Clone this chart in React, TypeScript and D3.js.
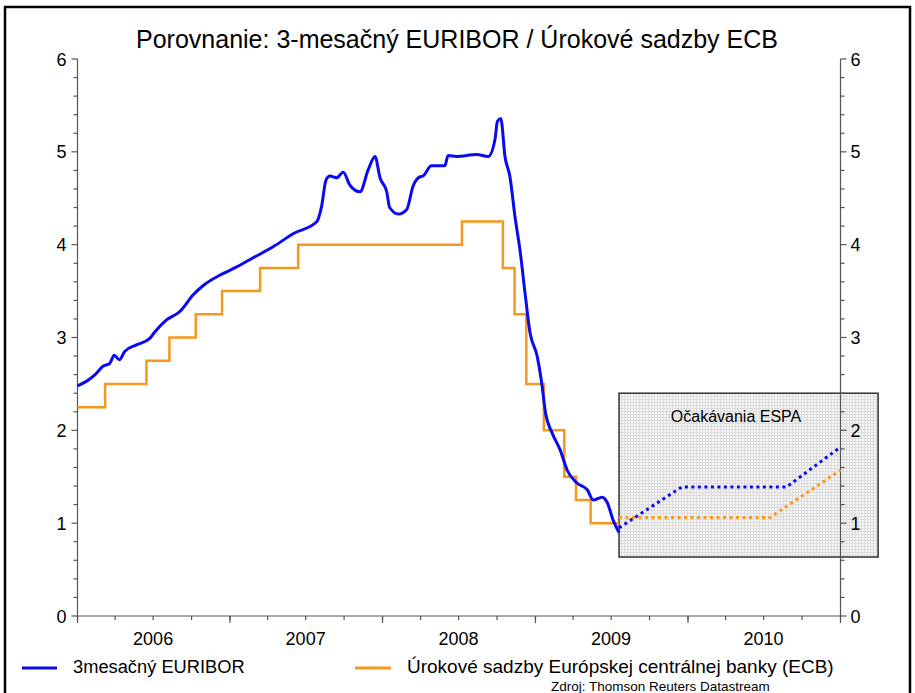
import React from "react";
import * as d3 from "d3";

const euriborDates = [
  "2006-01-01","2006-01-23","2006-02-12","2006-03-03","2006-03-19","2006-03-30","2006-04-11","2006-04-24",
  "2006-05-22","2006-06-23","2006-07-05","2006-08-02","2006-09-03","2006-10-05","2006-10-29","2006-12-16",
  "2007-01-17","2007-02-18","2007-04-15","2007-06-02","2007-07-28","2007-08-08","2007-08-19","2007-08-28",
  "2007-09-13","2007-09-29","2007-10-15","2007-11-08","2007-11-28","2007-12-14","2007-12-26","2008-01-11",
  "2008-01-18","2008-02-08","2008-02-28","2008-03-14","2008-03-30","2008-04-07","2008-04-27","2008-05-29",
  "2008-06-06","2008-06-26","2008-08-13","2008-09-10","2008-09-26","2008-10-02","2008-10-10","2008-10-20",
  "2008-11-01","2008-11-13","2008-11-25","2008-12-07","2008-12-19","2009-01-05","2009-01-15","2009-01-25",
  "2009-02-10","2009-03-01","2009-03-18","2009-04-11","2009-05-05","2009-05-19","2009-06-10","2009-06-22",
  "2009-07-06","2009-07-20"
];
const euriborRates = [
  2.48,2.53,2.6,2.69,2.72,2.81,2.76,2.85,
  2.92,2.99,3.06,3.19,3.28,3.46,3.56,3.69,
  3.76,3.84,3.98,4.12,4.25,4.41,4.7,4.74,
  4.72,4.78,4.64,4.57,4.81,4.95,4.72,4.57,
  4.4,4.33,4.38,4.63,4.73,4.74,4.85,4.85,
  4.96,4.95,4.97,4.95,5.13,5.33,5.36,4.95,
  4.73,4.3,3.94,3.48,3.05,2.8,2.54,2.19,
  1.97,1.79,1.57,1.43,1.36,1.25,1.28,1.22,
  1.03,0.9
];

const ecbDates = [
  "2006-01-01","2006-03-08","2006-06-15","2006-08-09","2006-10-11","2006-12-13","2007-03-14","2007-06-13",
  "2008-07-09","2008-10-15","2008-11-12","2008-12-10","2009-01-21","2009-03-11","2009-04-08","2009-05-13",
  "2009-07-20"
];
const ecbRates = [2.25,2.5,2.75,3.0,3.25,3.5,3.75,4.0,4.25,3.75,3.25,2.5,2.0,1.5,1.25,1.0,1.0];

const euriborForecastDates = ["2009-07-20","2009-12-17","2010-08-25","2011-01-01"];
const euriborForecastRates = [0.95,1.39,1.39,1.82];
const ecbForecastDates = ["2009-07-20","2010-07-16","2011-01-01"];
const ecbForecastRates = [1.06,1.06,1.57];

const yearLabels = ["2006","2007","2008","2009","2010"];
const yTicks = [0,1,2,3,4,5,6];

const title = "Porovnanie: 3-mesačný EURIBOR / Úrokové sadzby ECB";
const boxLabel = "Očakávania ESPA";
const legendLabels = ["3mesačný EURIBOR","Úrokové sadzby Európskej centrálnej banky (ECB)"];
const sourceLabel = "Zdroj: Thomson Reuters Datastream";

const BLUE = "#0a0af0";
const ORANGE = "#f7971e";
const FONT = "'Liberation Sans', Arial, sans-serif";

const parse = d3.timeParse("%Y-%m-%d");

type Pt = { d: Date; v: number };
const zip = (ds: string[], vs: number[]): Pt[] => ds.map((s, i) => ({ d: parse(s) as Date, v: vs[i] }));

export default function App() {
  const W = 915, H = 693;
  const x = d3.scaleTime().domain([parse("2006-01-01") as Date, parse("2011-01-01") as Date]).range([77.5, 840.5]);
  const y = d3.scaleLinear().domain([0, 6]).range([616, 59]);

  const mk = () => d3.line<Pt>().x(p => x(p.d)).y(p => y(p.v));
  const euribor = zip(euriborDates, euriborRates);
  const ecb = zip(ecbDates, ecbRates);
  const eurF = zip(euriborForecastDates, euriborForecastRates);
  const ecbF = zip(ecbForecastDates, ecbForecastRates);

  const euriborPath = mk().curve(d3.curveMonotoneX)(euribor) || "";
  const ecbPath = mk().curve(d3.curveStepAfter)(ecb) || "";
  const eurFPath = mk()(eurF) || "";
  const ecbFPath = mk()(ecbF) || "";

  const x0 = x.range()[0], x1 = x.range()[1];
  const yBase = y(0);
  const minorY = d3.range(0, 6.001, 0.2);
  const quarters = d3.timeMonth.every(3)!.range(x.domain()[0], new Date(2011, 0, 2));
  const years = d3.timeYear.range(x.domain()[0], new Date(2011, 0, 2));

  // forecast box (annotation, in data coordinates)
  const bx0 = x(parse("2009-07-20") as Date);
  const bx1 = x(parse("2011-04-01") as Date);
  const by0 = y(2.4);
  const by1 = y(0.635);

  const axisColor = "#555";

  return (
    <svg width={W} height={H} style={{ position: "absolute", left: 0, top: 0, background: "#fff" }} fontFamily={FONT}>
      <defs>
        <pattern id="grid" width="3" height="3" patternUnits="userSpaceOnUse">
          <rect width="3" height="3" fill="#f5f5f5" />
          <path d="M0 0.5H3M0.5 0V3" stroke="#dcdcdc" strokeWidth="1" />
        </pattern>
      </defs>
      <rect x={0} y={0} width={W} height={H} fill="#fff" />
      {/* outer frame */}
      <path d={`M5,${H + 5}V7H910V${H + 5}`} fill="none" stroke="#000" strokeWidth={2.5} />

      <text x={457} y={48} textAnchor="middle" fontSize={25} fill="#000">{title}</text>

      {/* forecast box */}
      <rect x={bx0} y={by0} width={bx1 - bx0} height={by1 - by0} fill="url(#grid)" stroke="#333" strokeWidth={1.5} />
      <text x={736} y={421.5} textAnchor="middle" fontSize={16} fill="#000">{boxLabel}</text>

      {/* axes */}
      <g stroke={axisColor} strokeWidth={1.2} fill="none">
        <line x1={x0} x2={x0} y1={y(6)} y2={yBase} />
        <line x1={x1} x2={x1} y1={y(6)} y2={yBase} />
        <line x1={x0} x2={x1} y1={yBase} y2={yBase} />
        {minorY.map((v, i) => (
          <g key={"my" + i}>
            <line x1={x0 - (Math.abs(v - Math.round(v)) < 1e-6 ? 6 : 4)} x2={x0} y1={y(v)} y2={y(v)} />
            <line x1={x1} x2={x1 + (Math.abs(v - Math.round(v)) < 1e-6 ? 6 : 4)} y1={y(v)} y2={y(v)} />
          </g>
        ))}
        {quarters.map((q, i) => (
          <line key={"q" + i} x1={x(q)} x2={x(q)} y1={yBase} y2={yBase + 4} />
        ))}
        {years.map((q, i) => (
          <line key={"yr" + i} x1={x(q)} x2={x(q)} y1={yBase} y2={yBase + 7} />
        ))}
      </g>
      {yTicks.map(v => (
        <g key={"yl" + v} fontSize={18} fill="#000">
          <text x={x0 - 11} y={y(v) + 6.5} textAnchor="end">{v}</text>
          <text x={x1 + 10} y={y(v) + 6.5} textAnchor="start">{v}</text>
        </g>
      ))}
      {yearLabels.map(l => (
        <text key={l} x={x(new Date(+l, 6, 1))} y={645} textAnchor="middle" fontSize={18} fill="#000">{l}</text>
      ))}

      {/* series */}
      <path d={ecbPath} fill="none" stroke={ORANGE} strokeWidth={2.5} />
      <path d={euriborPath} fill="none" stroke={BLUE} strokeWidth={3} strokeLinejoin="round" />
      <path d={ecbFPath} fill="none" stroke={ORANGE} strokeWidth={3} strokeDasharray="3,3.5" />
      <path d={eurFPath} fill="none" stroke={BLUE} strokeWidth={3} strokeDasharray="3,3.5" />

      {/* legend */}
      <line x1={22} x2={57} y1={668} y2={668} stroke={BLUE} strokeWidth={2.8} />
      <text x={73} y={673} fontSize={18.3} fill="#000">{legendLabels[0]}</text>
      <line x1={355} x2={391} y1={668} y2={668} stroke={ORANGE} strokeWidth={2.8} />
      <text x={407} y={673} fontSize={19} fill="#000">{legendLabels[1]}</text>
      <text x={551} y={691} fontSize={13.5} fill="#000">{sourceLabel}</text>
    </svg>
  );
}
